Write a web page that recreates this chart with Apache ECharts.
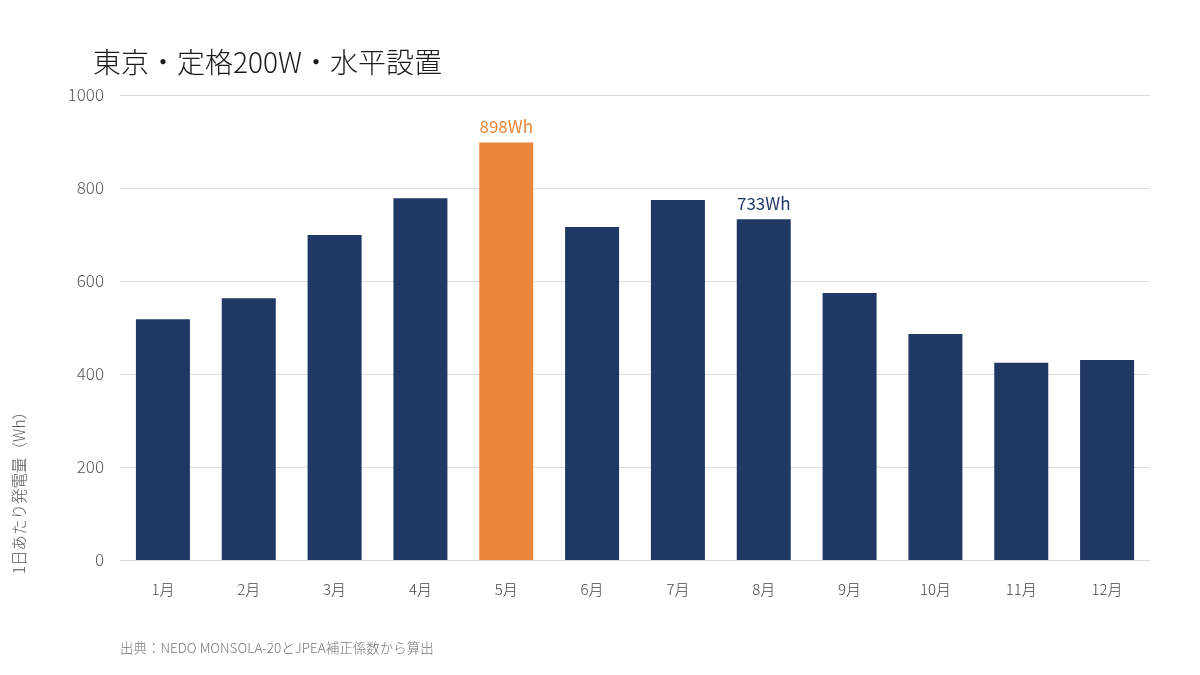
<!DOCTYPE html>
<html>
<head>
<meta charset="utf-8">
<script src="https://cdn.jsdelivr.net/npm/echarts@6/dist/echarts.min.js"></script>
<style>
  html, body { margin: 0; padding: 0; background: #fff; }
  #chart { width: 1200px; height: 675px; }
</style>
</head>
<body>
<div id="chart"></div>
<script>
// 月別の1日あたり発電量（東京・定格200W・水平設置）
const months = ['1月', '2月', '3月', '4月', '5月', '6月', '7月', '8月', '9月', '10月', '11月', '12月'];
const dailyWh = [518, 563, 699, 778, 898, 716, 774, 733, 574, 486, 424, 430];
const yTicks = [0, 200, 400, 600, 800, 1000];

const NAVY = '#203864';
const ORANGE = '#E8863A';
const FONT = '"Noto Sans CJK JP", "Noto Sans", sans-serif';

// 5月だけ強調、5月と8月にラベル
const barData = dailyWh.map((v, i) => {
  const item = { value: v };
  if (i === 4) {
    item.itemStyle = { color: ORANGE };
    item.label = { show: true, color: ORANGE };
  } else if (i === 7) {
    item.label = { show: true, color: NAVY };
  }
  return item;
});

const myChart = echarts.init(document.getElementById('chart'));
const option = {
  animation: false,
  textStyle: { fontFamily: FONT },
  title: {
    text: '東京・定格200W・水平設置',
    left: 88,
    top: 43,
    textStyle: { fontSize: 28, fontWeight: 300, color: '#1a1a1a', fontFamily: FONT }
  },
  grid: { left: 120, right: 50, top: 95, bottom: 115 },
  xAxis: {
    type: 'category',
    data: months,
    axisLine: { show: true, lineStyle: { color: '#d9d9d9' } },
    axisTick: { show: false },
    axisLabel: { color: '#444', fontSize: 15, margin: 22, fontFamily: FONT, fontWeight: 300 }
  },
  yAxis: {
    type: 'value',
    min: yTicks[0],
    max: yTicks[yTicks.length - 1],
    interval: 200,
    axisLine: { show: false },
    axisTick: { show: false },
    axisLabel: { color: '#555', fontSize: 17, margin: 16, fontFamily: FONT, fontWeight: 300, formatter: v => String(v) },
    splitLine: { lineStyle: { color: '#dcdcdc' } }
  },
  series: [{
    type: 'bar',
    data: barData,
    barWidth: 54,
    itemStyle: { color: NAVY },
    label: {
      show: false,
      position: 'top',
      distance: 7,
      fontSize: 17,
      fontFamily: FONT,
      formatter: p => p.value + 'Wh'
    }
  }],
  graphic: [
    {
      type: 'text',
      left: 11,
      top: 404,
      rotation: Math.PI / 2,
      style: {
        text: '1日あたり発電量（Wh）',
        fill: '#555',
        font: '300 15.5px ' + FONT
      }
    },
    {
      type: 'text',
      left: 120,
      top: 641,
      style: {
        text: '出典：NEDO MONSOLA-20とJPEA補正係数から算出',
        fill: '#777',
        font: '300 13.5px ' + FONT
      }
    }
  ]
};
myChart.setOption(option, true);
window.addEventListener('resize', function () {
  myChart.resize();
});
</script>
</body>
</html>
